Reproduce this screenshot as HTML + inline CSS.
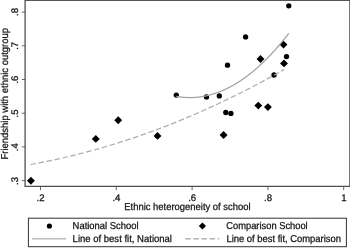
<!DOCTYPE html>
<html><head><meta charset="utf-8"><title>Chart</title>
<style>
html,body{margin:0;padding:0;background:#fff;}
body{width:350px;height:248px;overflow:hidden;}
svg{display:block;}
text{text-rendering:geometricPrecision;font-family:"Liberation Sans",Arial,sans-serif;fill:#111;stroke:#111;stroke-width:0.25px;}
</style></head><body>
<svg width="350" height="248" viewBox="0 0 350 248">
<rect x="0" y="0" width="350" height="248" fill="#fff"/>
<!-- plot frame -->
<path d="M25 0.5H350" fill="none" stroke="#555" stroke-width="1.05"/>
<path d="M349.6 0V186.5" fill="none" stroke="#555" stroke-width="0.9"/>
<path d="M25.1 0V186.4H350" fill="none" stroke="#505050" stroke-width="1.3"/>
<!-- ticks -->
<g stroke="#444" stroke-width="0.8">
<path d="M21.8 12.1H25M21.8 45.8H25M21.8 79.5H25M21.8 113.2H25M21.8 146.9H25M21.8 180.6H25"/>
<path d="M40.5 186.5V190.2M116.3 186.5V190.2M192.1 186.5V190.2M267.9 186.5V190.2M343.7 186.5V190.2"/>
</g>
<!-- y tick labels -->
<g font-size="9.6" text-anchor="middle">
<text transform="translate(17.8 12) rotate(-90)">.8</text>
<text transform="translate(17.8 45.8) rotate(-90)">.7</text>
<text transform="translate(17.8 79.6) rotate(-90)">.6</text>
<text transform="translate(17.8 113.4) rotate(-90)">.5</text>
<text transform="translate(17.8 147.2) rotate(-90)">.4</text>
<text transform="translate(17.8 181) rotate(-90)">.3</text>
</g>
<text font-size="10" transform="translate(8.1 159.5) rotate(-90)" textLength="131.5" lengthAdjust="spacingAndGlyphs">Friendship with ethnic outgroup</text>
<g font-size="9.6" text-anchor="middle">
<text x="40.6" y="201.2">.2</text>
<text x="116.4" y="201.2">.4</text>
<text x="192.2" y="201.2">.6</text>
<text x="268" y="201.2">.8</text>
<text x="343.8" y="201.2">1</text>
</g>
<text font-size="10" x="124.3" y="210.1" textLength="126.3" lengthAdjust="spacingAndGlyphs">Ethnic heterogeneity of school</text>
<!-- circles -->
<g fill="#000">
<circle cx="288.8" cy="5.8" r="2.65"/>
<circle cx="245.6" cy="36.9" r="2.65"/>
<circle cx="227.5" cy="65.2" r="2.65"/>
<circle cx="286.5" cy="56.6" r="2.65"/>
<circle cx="274" cy="75" r="2.65"/>
<circle cx="176.3" cy="95.1" r="2.65"/>
<circle cx="206.5" cy="96.9" r="2.65"/>
<circle cx="219.3" cy="95.9" r="2.65"/>
<circle cx="225.8" cy="112.5" r="2.65"/>
<circle cx="230.9" cy="113.4" r="2.65"/>
</g>
<g fill="#000">
<path d="M0 -3.95L3.95 0L0 3.95L-3.95 0Z" transform="translate(30.9 180.8)"/>
<path d="M0 -3.95L3.95 0L0 3.95L-3.95 0Z" transform="translate(95.8 138.9)"/>
<path d="M0 -3.95L3.95 0L0 3.95L-3.95 0Z" transform="translate(118.2 120.2)"/>
<path d="M0 -3.95L3.95 0L0 3.95L-3.95 0Z" transform="translate(157.5 135.9)"/>
<path d="M0 -3.95L3.95 0L0 3.95L-3.95 0Z" transform="translate(223.6 135)"/>
<path d="M0 -3.95L3.95 0L0 3.95L-3.95 0Z" transform="translate(258.3 105.6)"/>
<path d="M0 -3.95L3.95 0L0 3.95L-3.95 0Z" transform="translate(267.9 107.1)"/>
<path d="M0 -3.95L3.95 0L0 3.95L-3.95 0Z" transform="translate(260.5 59)"/>
<path d="M0 -3.95L3.95 0L0 3.95L-3.95 0Z" transform="translate(283.5 44.6)"/>
<path d="M0 -3.95L3.95 0L0 3.95L-3.95 0Z" transform="translate(284 63.4)"/>
</g>
<!-- fit lines -->
<path d="M176.3 96.3Q232.55 106.5 288.8 33.4" fill="none" stroke="#a2a2a2" stroke-width="1.25"/>
<path d="M30.6 164.5Q157.3 141.8 284 69.6" fill="none" stroke="#adadad" stroke-width="1.25" stroke-dasharray="5.53 2.61"/>
<!-- legend -->
<rect x="28.4" y="218.2" width="318" height="28.5" fill="#fff" stroke="#333" stroke-width="1"/>
<circle cx="49.4" cy="226" r="2.6" fill="#000"/>
<path d="M0 -3.6L3.6 0L0 3.6L-3.6 0Z" transform="translate(202.4 226)" fill="#000"/>
<path d="M32 238.8H66" stroke="#bcbcbc" stroke-width="1.5"/>
<path d="M185.3 238.8H219.3" stroke="#b4b4b4" stroke-width="1.5" stroke-dasharray="5.5 2.6"/>
<g font-size="10">
<text x="72.6" y="229.4" textLength="66" lengthAdjust="spacingAndGlyphs">National School</text>
<text x="72.6" y="241.8" textLength="99.4" lengthAdjust="spacingAndGlyphs">Line of best fit, National</text>
<text x="226.3" y="229.4" textLength="81.4" lengthAdjust="spacingAndGlyphs">Comparison School</text>
<text x="226.4" y="241.9" textLength="114.6" lengthAdjust="spacingAndGlyphs">Line of best fit, Comparison</text>
</g>
</svg>
</body></html>
